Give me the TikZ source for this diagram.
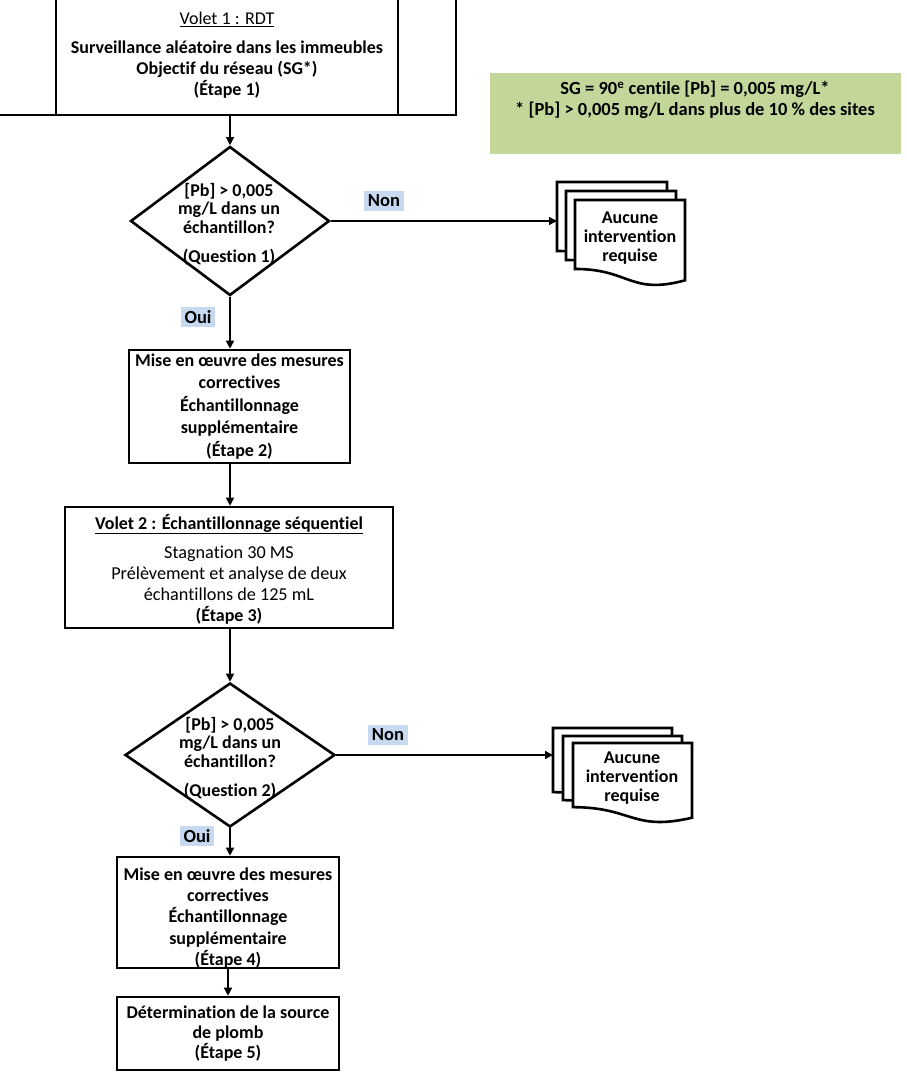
\documentclass[tikz,border=0pt]{standalone}
\usepackage{fontspec}
\setmainfont[Ligatures={NoCommon}]{Carlito}
\usetikzlibrary{shapes.geometric,arrows.meta}
\definecolor{lblue}{RGB}{198,217,240}
\definecolor{sggreen}{RGB}{196,215,155}
\newcommand\mydocsheet[4]{%
  \path[sheet] (#1,#2) -- ({#1+#3},#2) -- ({#1+#3},{#2+0.934*#4})
    .. controls ({#1+0.5*#3},{#2+1.1075*#4}) and ({#1+0.5*#3},{#2+0.802*#4}) .. (#1,{#2+0.802*#4}) -- cycle;}
\begin{document}
\begin{tikzpicture}[x=1pt,y=-1pt,
  box/.style={draw, line width=2.6pt, fill=white, inner sep=0pt, align=center,
    font=\fontsize{18}{22.5}\selectfont\bfseries},
  txt/.style={align=center, inner sep=0pt, font=\fontsize{18}{22}\selectfont\bfseries},
  dtxt/.style={align=center, inner sep=0pt, font=\fontsize{18}{18.8}\selectfont\bfseries},
  decision/.style={draw, shape=diamond, line width=2.6pt, inner sep=0pt, fill=white},
  conn/.style={line width=1.3pt, -{Triangle[length=8pt,width=8pt]}},
  lbl/.style={fill=lblue, inner xsep=3.5pt, inner ysep=3.5pt, font=\fontsize{18.5}{19}\selectfont\bfseries},
  sheet/.style={draw, line width=2.6pt, fill=white, line join=miter},
  anchorbox/.style={inner sep=0pt, anchor=north west}
]
\useasboundingbox (0,0) rectangle (907,1076);
\clip (0,0) rectangle (907,1076);

% Step 1 box
\node[draw, line width=2.6pt, fill=white, minimum width=459pt, minimum height=118pt, inner sep=0pt] (top) at (226.5,56) {};
\draw[line width=2.6pt] (56,-3) -- (56,115);
\draw[line width=2.6pt] (398,-3) -- (398,115);
\node[txt, font=\fontsize{18}{21}\selectfont\bfseries] (toptxt) at (227,55)
  {{\mdseries\underline{Volet 1 : RDT}}\\[8pt]
   Surveillance aléatoire dans les immeubles\\
   Objectif du réseau (SG*)\\
   (Étape 1)};

% SG box
\node[fill=sggreen, minimum width=411pt, minimum height=81pt, anchorbox] (sg) at (490,73) {};
\node[txt, font=\fontsize{18.5}{20.5}\selectfont\bfseries] (sgtxt) at (695,100)
  {SG = 90\textsuperscript{e} centile [Pb] = 0,005 mg/L*\\
   * [Pb] > 0,005 mg/L dans plus de 10 \% des sites};

% Decision 1
\node[decision, minimum width=199pt, minimum height=149pt] (d1) at (230,221) {};
\node[dtxt] (d1txt) at (229,224)
  {[Pb] > 0,005\\ mg/L dans un\\ échantillon?\\[10pt] (Question 1)};

% Multi-document 1
\mydocsheet{557}{182}{110}{86}
\mydocsheet{566}{191}{110}{86}
\mydocsheet{575}{200}{110}{86}
\node[anchorbox, minimum width=110pt, minimum height=69pt] (docA) at (557,182) {};
\node[dtxt] (docAtxt) at (630,238) {Aucune\\ intervention\\ requise};

% Step 2
\node[box, minimum width=221pt, minimum height=113pt] (s2) at (239.5,406.5)
  {Mise en œuvre des mesures\\ correctives\\ Échantillonnage\\ supplémentaire\\ (Étape 2)};

% Volet 2
\node[box, minimum width=328pt, minimum height=121pt] (v2) at (229,567.5) {};
\node[txt, font=\fontsize{18.2}{21}\selectfont] (v2txt) at (229,569)
  {{\fontsize{18}{21}\selectfont\textbf{\underline{Volet 2 : Échantillonnage séquentiel}}}\\[8pt]
   Stagnation 30 MS\\
   Prélèvement et analyse de deux\\
   échantillons de 125 mL\\
   {\fontsize{18}{21}\selectfont\textbf{(Étape 3)}}};

% Decision 2
\node[decision, minimum width=210pt, minimum height=144pt] (d2) at (230,755) {};
\node[dtxt] (d2txt) at (230,758)
  {[Pb] > 0,005\\ mg/L dans un\\ échantillon?\\[10pt] (Question 2)};

% Multi-document 2
\mydocsheet{553}{728}{119}{80}
\mydocsheet{563}{736}{119}{80}
\mydocsheet{573}{743}{119}{80}
\node[anchorbox, minimum width=119pt, minimum height=64pt] (docB) at (553,728) {};
\node[dtxt] (docBtxt) at (632,778) {Aucune\\ intervention\\ requise};

% Step 4
\node[box, minimum width=222pt, minimum height=111pt] (s4) at (228,912.5) {};
\node[txt, font=\fontsize{18}{21.3}\selectfont\bfseries] (s4txt) at (228,918)
  {Mise en œuvre des mesures\\ correctives\\ Échantillonnage\\ supplémentaire\\ (Étape 4)};

% Step 5
\node[box, minimum width=222pt, minimum height=73pt, font=\fontsize{18}{20}\selectfont\bfseries] (s5) at (228,1033.5)
  {Détermination de la source\\ de plomb\\ (Étape 5)};

% Connectors
\draw[conn] (d1.north |- top.south) -- (d1.north);
\draw[conn] (d1.south) -- (d1.south |- s2.north);
\draw[conn] (d1.east) -- (d1.east -| docA.west);
\draw[conn] (d1.south |- s2.south) -- (d1.south |- v2.north);
\draw[conn] (d2.north |- v2.south) -- (d2.north);
\draw[conn] (d2.east) -- (d2.east -| docB.west);
\draw[conn] (d2.south) -- (d2.south |- s4.north);
\draw[conn] (s4.south) -- (s5.north);

% Labels
\node[lbl] (non1) at (384,201) {Non};
\node[lbl] (oui1) at (198,317) {Oui};
\node[lbl] (non2) at (388,735) {Non};
\node[lbl] (oui2) at (197,836) {Oui};
\end{tikzpicture}
\end{document}
